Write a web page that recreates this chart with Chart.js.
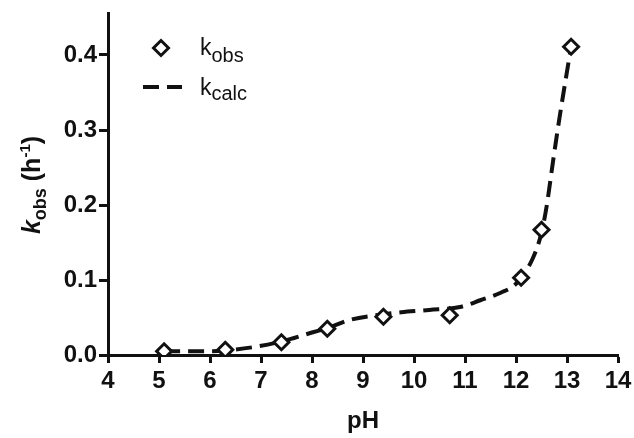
<!DOCTYPE html>
<html>
<head>
<meta charset="utf-8">
<script src="https://cdn.jsdelivr.net/npm/chart.js@4/dist/chart.umd.min.js"></script>
<style>
  body { margin: 0; background: #fff; }
  #wrap { width: 634px; height: 438px; }
</style>
</head>
<body>
<div id="wrap"><canvas id="myChart"></canvas></div>
<script>
'use strict';

// observed rate constants
const phObs = [5.1, 6.3, 7.4, 8.3, 9.4, 10.7, 12.1, 12.5, 13.08];
const kObs = [0.005, 0.007, 0.017, 0.035, 0.051, 0.053, 0.103, 0.167, 0.411];

// calculated curve
const phCalc = [5.1, 5.6, 6.0, 6.3, 6.9, 7.4, 8.0, 8.35, 8.75, 9.25, 9.75, 10.3, 10.9, 11.3, 11.7, 12.0, 12.33, 12.5, 12.6, 12.73, 12.85, 13.0, 13.08];
const kCalc = [0.005, 0.005, 0.005, 0.006, 0.011, 0.018, 0.030, 0.037, 0.047, 0.053, 0.057, 0.060, 0.064, 0.073, 0.083, 0.095, 0.129, 0.163, 0.198, 0.26, 0.315, 0.378, 0.411];

const xTicks = [4, 5, 6, 7, 8, 9, 10, 11, 12, 13, 14];
const yTicks = [0.0, 0.1, 0.2, 0.3, 0.4];

const FONT = '"Liberation Sans", Arial, Helvetica, sans-serif';
const INK = '#111';
const DASH = [16, 8];

function drawRuns(ctx, runs, x, y, align) {
	let total = 0;
	runs.forEach(r => { ctx.font = r.font; total += ctx.measureText(r.text).width; });
	let cx = align === 'center' ? x - total / 2 : x;
	runs.forEach(r => {
		ctx.font = r.font;
		ctx.fillText(r.text, cx, y + (r.dy || 0));
		cx += ctx.measureText(r.text).width;
	});
}

const textPlugin = {
	id: 'texts',
	afterDraw(chart) {
		const ctx = chart.ctx;
		ctx.save();
		ctx.fillStyle = INK;
		ctx.strokeStyle = INK;
		ctx.textBaseline = 'alphabetic';
		ctx.textAlign = 'left';

		// y axis title
		ctx.save();
		ctx.translate(40, 185);
		ctx.rotate(-Math.PI / 2);
		drawRuns(ctx, [
			{ text: 'k', font: 'italic bold 25px ' + FONT },
			{ text: 'obs', font: 'bold 18px ' + FONT, dy: 6 },
			{ text: ' (h', font: 'bold 25px ' + FONT },
			{ text: '-1', font: 'bold 15px ' + FONT, dy: -10 },
			{ text: ')', font: 'bold 25px ' + FONT }
		], 0, 0, 'center');
		ctx.restore();

		// legend
		const r = 7.5;
		ctx.lineWidth = 3;
		ctx.fillStyle = '#fff';
		ctx.beginPath();
		ctx.moveTo(161, 48 - r);
		ctx.lineTo(161 + r, 48);
		ctx.lineTo(161, 48 + r);
		ctx.lineTo(161 - r, 48);
		ctx.closePath();
		ctx.fill();
		ctx.stroke();

		ctx.lineWidth = 4;
		ctx.setLineDash(DASH);
		ctx.beginPath();
		ctx.moveTo(143, 87);
		ctx.lineTo(182, 87);
		ctx.stroke();
		ctx.setLineDash([]);

		ctx.fillStyle = INK;
		drawRuns(ctx, [
			{ text: 'k', font: '23px ' + FONT },
			{ text: 'obs', font: '20px ' + FONT, dy: 7 }
		], 200, 55, 'left');
		drawRuns(ctx, [
			{ text: 'k', font: '23px ' + FONT },
			{ text: 'calc', font: '20px ' + FONT, dy: 5 }
		], 200, 95, 'left');
		ctx.restore();
	}
};

const ctx = document.getElementById('myChart').getContext('2d');
const myChart = new Chart(ctx, {
	type: 'scatter',
	data: {
		datasets: [
			{
				label: 'kobs',
				data: phObs.map((x, i) => ({ x: x, y: kObs[i] })),
				pointStyle: 'rectRot',
				pointRadius: 7.5,
				pointBorderWidth: 3,
				pointBorderColor: INK,
				pointBackgroundColor: '#fff',
				showLine: false
			},
			{
				label: 'kcalc',
				data: phCalc.map((x, i) => ({ x: x, y: kCalc[i] })),
				showLine: true,
				borderColor: INK,
				borderWidth: 4,
				borderDash: DASH,
				cubicInterpolationMode: 'monotone',
				pointRadius: 0,
				fill: false
			}
		]
	},
	options: {
		responsive: true,
		maintainAspectRatio: false,
		animation: false,
		layout: { padding: { left: 0, right: 16, top: 13, bottom: 0 } },
		plugins: {
			legend: { display: false },
			tooltip: { enabled: false }
		},
		scales: {
			x: {
				type: 'linear',
				min: 4,
				max: 14,
				afterBuildTicks: s => { s.ticks = xTicks.map(v => ({ value: v })); },
				afterFit: s => { s.height = 83; s.paddingLeft = 0; s.paddingRight = 0; },
				border: { display: true, color: INK, width: 3 },
				grid: { drawOnChartArea: false, color: INK, tickLength: 8, tickWidth: 3 },
				ticks: {
					color: INK,
					padding: 4,
					font: { family: FONT, size: 24, weight: 'bold' }
				},
				title: {
					display: true,
					text: 'pH',
					color: INK,
					padding: { top: 0, bottom: 2 },
					font: { family: FONT, size: 24, weight: 'bold' }
				}
			},
			y: {
				type: 'linear',
				min: 0,
				max: 0.456,
				afterBuildTicks: s => { s.ticks = yTicks.map(v => ({ value: v })); },
				afterFit: s => { s.width = 108; s.paddingTop = 0; s.paddingBottom = 0; },
				border: { display: true, color: INK, width: 3 },
				grid: { drawOnChartArea: false, color: INK, tickLength: 9, tickWidth: 3 },
				ticks: {
					color: INK,
					padding: 2,
					callback: v => v.toFixed(1),
					font: { family: FONT, size: 24, weight: 'bold' }
				}
			}
		}
	},
	plugins: [textPlugin]
});
</script>
</body>
</html>
